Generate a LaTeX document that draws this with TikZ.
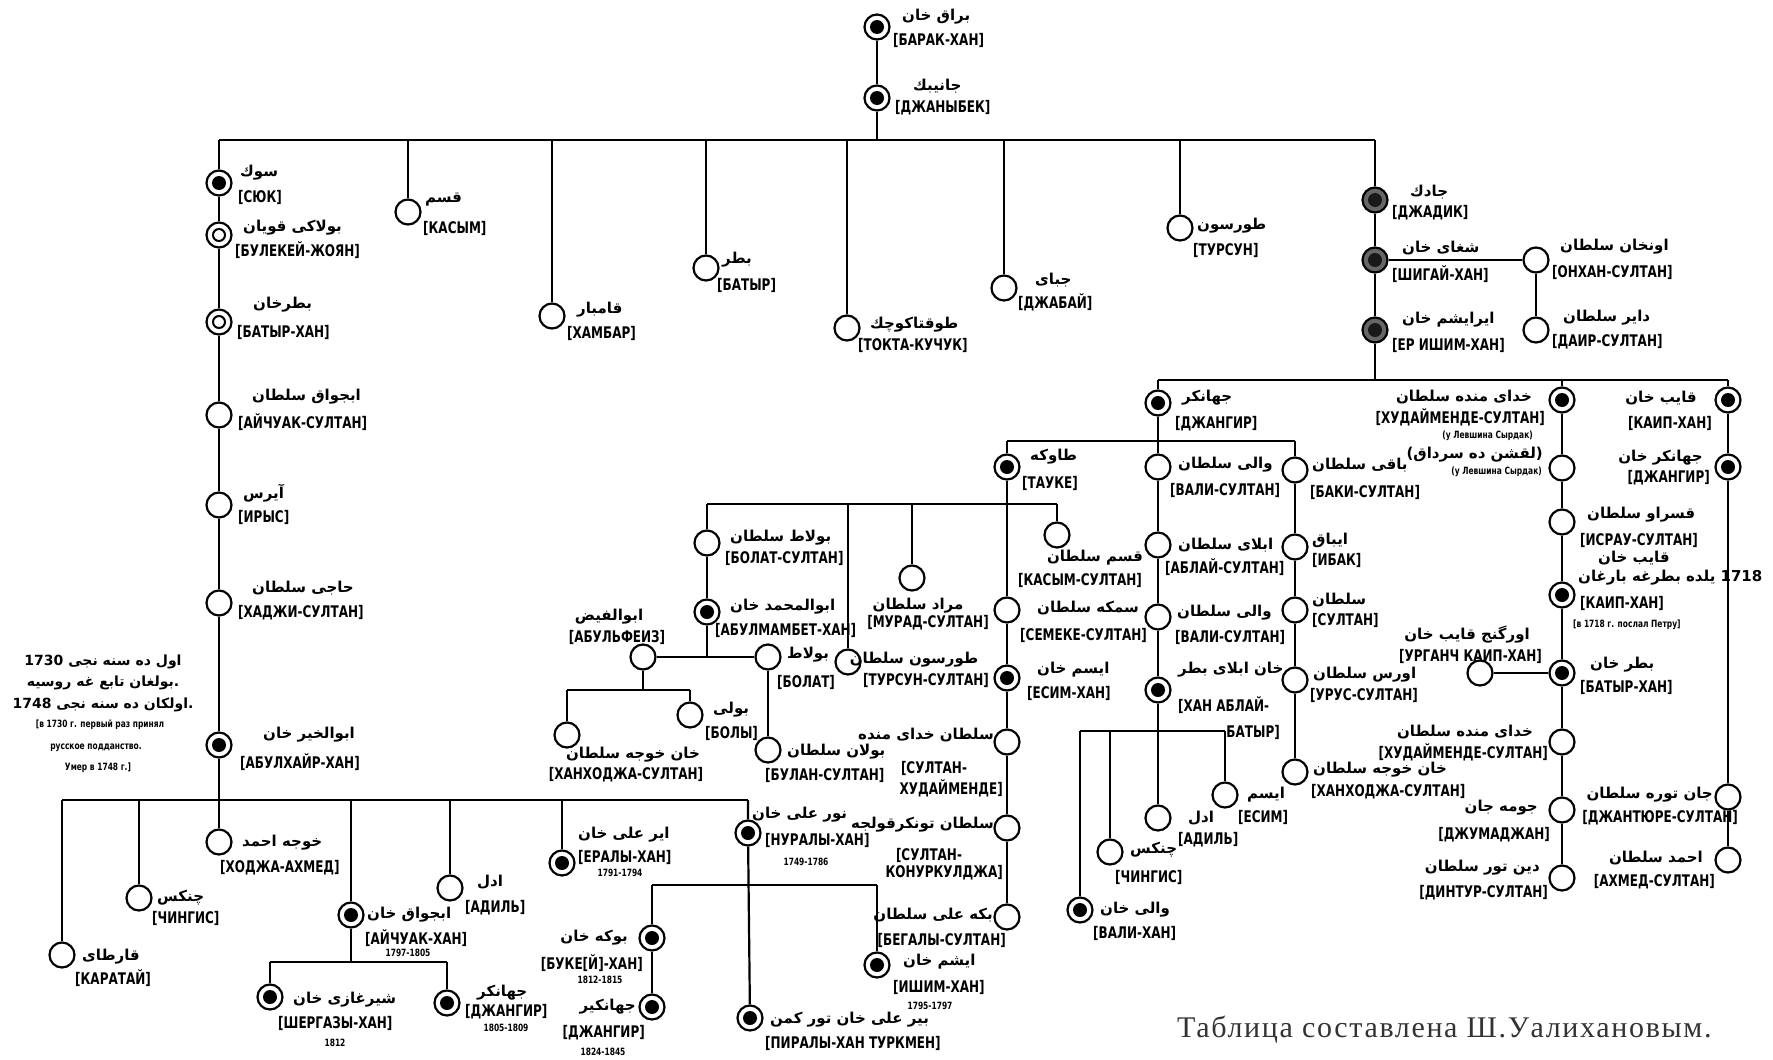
\documentclass[tikz,border=0pt]{standalone}
\usepackage{fontspec}
\TeXXeTstate=1
\setmainfont{Liberation Serif}
\newfontfamily\arabicfont[Script=Arabic]{DejaVu Sans}
\newfontfamily\cyrfont[FakeStretch=0.75]{DejaVu Sans}
\tikzset{
  conn/.style={line width=2.2pt, black},
  person/.style={circle, draw=black, line width=2.2pt, fill=white, minimum size=25pt, inner sep=0pt},
  plain/.style={person},
  khan/.style={person, path picture={\fill[black] (path picture bounding box.center) circle (7pt);}},
  khandark/.style={person, fill=black!60, path picture={\fill[black!90] (path picture bounding box.center) circle (7pt);}},
  ringed/.style={person, path picture={\draw[line width=2pt] (path picture bounding box.center) circle (6pt);}},
  ar/.style={inner sep=0pt, font=\arabicfont\bfseries\fontsize{15}{18}\selectfont},
  arn/.style={inner sep=0pt, font=\arabicfont\bfseries\fontsize{14}{17}\selectfont},
  cy/.style={inner sep=0pt, font=\cyrfont\bfseries\fontsize{16}{18}\selectfont},
  sm/.style={inner sep=0pt, font=\cyrfont\bfseries\fontsize{10}{12}\selectfont},
}
\newcommand\arlab[4]{\node[ar,anchor=#2] (#1) at (#3) {#4};}
\newcommand\cylab[4]{\node[cy,anchor=#2] (#1) at (#3) {#4};}
\newcommand\smlab[4]{\node[sm,anchor=#2] (#1) at (#3) {#4};}
\begin{document}
\begin{tikzpicture}[x=1pt,y=-1pt]
\useasboundingbox[fill=white] (0,0) rectangle (1773,1060);

% ---------- persons ----------
\node[khan] (barak) at (877,27) {};
\node[khan] (janybek) at (877,98) {};
\node[khan] (syuk) at (219,183) {};
\node[ringed] (bulekey) at (219,235) {};
\node[ringed] (batyrkhan) at (219,322) {};
\node[plain] (aychuaks) at (219,415) {};
\node[plain] (irys) at (219,505) {};
\node[plain] (khadzhi) at (219,603) {};
\node[khan] (abulkhair) at (219,745) {};
\node[plain] (kasym) at (408,212) {};
\node[plain] (khambar) at (552,316) {};
\node[plain] (batyr) at (706,268) {};
\node[plain] (tokta) at (847,328) {};
\node[plain] (dzhabay) at (1004,288) {};
\node[plain] (tursun) at (1180,228) {};
\node[khandark] (dzhadik) at (1375,200) {};
\node[khandark] (shigay) at (1375,260) {};
\node[khandark] (erishim) at (1375,330) {};
\node[plain] (onkhan) at (1536,260) {};
\node[plain] (dair) at (1536,330) {};

\node[khan] (dzhangir1) at (1158,403) {};
\node[khan] (khuday1) at (1562,400) {};
\node[plain] (levshina) at (1562,468) {};
\node[plain] (israu) at (1562,522) {};
\node[khan] (kaip1) at (1562,595) {};
\node[khan] (batyr2) at (1562,673) {};
\node[plain] (urganch) at (1480,673) {};
\node[plain] (khuday2) at (1562,742) {};
\node[plain] (dzhuma) at (1562,810) {};
\node[plain] (dintur) at (1562,878) {};
\node[khan] (kaip2) at (1728,400) {};
\node[khan] (dzhangir2) at (1728,467) {};
\node[plain] (dzhantyure) at (1728,797) {};
\node[plain] (akhmed) at (1728,860) {};

\node[khan] (tauke) at (1007,467) {};
\node[plain] (vali1) at (1158,467) {};
\node[plain] (baki) at (1295,470) {};
\node[plain] (ablays) at (1158,545) {};
\node[plain] (ibak) at (1295,547) {};
\node[plain] (vali2) at (1158,617) {};
\node[plain] (sultan) at (1295,610) {};
\node[khan] (ablaybatyr) at (1158,690) {};
\node[plain] (urus) at (1295,680) {};
\node[plain] (khankhodzha2) at (1295,772) {};
\node[khan] (valikhan) at (1080,910) {};
\node[plain] (chingis2) at (1110,852) {};
\node[plain] (adil2) at (1158,818) {};
\node[plain] (esim2) at (1225,795) {};

\node[plain] (kasyms) at (1057,535) {};
\node[plain] (semeke) at (1007,610) {};
\node[khan] (esimkhan) at (1007,678) {};
\node[plain] (skhuday) at (1007,742) {};
\node[plain] (skonur) at (1007,828) {};
\node[plain] (begaly) at (1007,917) {};
\node[plain] (murad) at (912,578) {};
\node[plain] (tursuns) at (848,662) {};
\node[plain] (bolats) at (707,543) {};
\node[khan] (abulmambet) at (707,612) {};
\node[plain] (abulfeiz) at (643,657) {};
\node[plain] (bolat) at (768,657) {};
\node[plain] (khankhodzha1) at (567,735) {};
\node[plain] (boly) at (690,715) {};
\node[plain] (bulan) at (768,750) {};

\node[plain] (khodzha) at (219,842) {};
\node[plain] (chingis1) at (139,898) {};
\node[plain] (karatay) at (62,955) {};
\node[khan] (aychuakkhan) at (351,915) {};
\node[plain] (adil1) at (450,888) {};
\node[khan] (eraly) at (562,863) {};
\node[khan] (nuraly) at (748,833) {};
\node[khan] (shergazy) at (270,997) {};
\node[khan] (dzhangir3) at (447,1003) {};
\node[khan] (bukey) at (652,938) {};
\node[khan] (dzhangir4) at (652,1007) {};
\node[khan] (piraly) at (750,1018) {};
\node[khan] (ishim) at (877,965) {};

% ---------- junctions ----------
\coordinate (rj) at (877,140);
\coordinate (r0) at (219,140); \coordinate (r1) at (408,140); \coordinate (r2) at (552,140);
\coordinate (r3) at (706,140); \coordinate (r4) at (847,140); \coordinate (r5) at (1004,140);
\coordinate (r6) at (1180,140); \coordinate (r7) at (1375,140);
\coordinate (q0) at (1158,380); \coordinate (q1) at (1375,380); \coordinate (q2) at (1562,380); \coordinate (q3) at (1728,380);
\coordinate (p0) at (1007,441); \coordinate (p2) at (1295,441);
\coordinate (s0) at (1080,731); \coordinate (s1) at (1110,731); \coordinate (s3) at (1225,731);
\coordinate (u0) at (707,504); \coordinate (u1) at (848,504); \coordinate (u2) at (912,504); \coordinate (u4) at (1057,504);
\coordinate (vj) at (707,657);
\coordinate (w0) at (567,690); \coordinate (w1) at (643,690); \coordinate (w2) at (690,690);
\coordinate (x0) at (62,800); \coordinate (x1) at (139,800); \coordinate (x3) at (351,800);
\coordinate (x4) at (450,800); \coordinate (x5) at (562,800); \coordinate (x6) at (748,800);
\coordinate (y0) at (270,962); \coordinate (y1) at (351,962); \coordinate (y2) at (447,962);
\coordinate (z0) at (652,885); \coordinate (z2) at (877,885);

% ---------- connectors ----------
\draw[conn] (barak) -- (janybek) -- (rj);
\draw[conn] (r0) -- (r7);
\draw[conn] (r0) -- (syuk) -- (bulekey) -- (batyrkhan) -- (aychuaks) -- (irys) -- (khadzhi) -- (abulkhair) -- (khodzha);
\draw[conn] (r1) -- (kasym);
\draw[conn] (r2) -- (khambar);
\draw[conn] (r3) -- (batyr);
\draw[conn] (r4) -- (tokta);
\draw[conn] (r5) -- (dzhabay);
\draw[conn] (r6) -- (tursun);
\draw[conn] (r7) -- (dzhadik) -- (shigay) -- (erishim) -- (q1);
\draw[conn] (shigay) -- (onkhan) -- (dair);
\draw[conn] (q0) -- (q3);
\draw[conn] (q0) -- (dzhangir1) -- (vali1) -- (ablays) -- (vali2) -- (ablaybatyr) -- (adil2);
\draw[conn] (p0) -- (p2);
\draw[conn] (p0) -- (tauke) -- (semeke) -- (esimkhan) -- (skhuday) -- (skonur) -- (begaly);
\draw[conn] (p2) -- (baki) -- (ibak) -- (sultan) -- (urus) -- (khankhodzha2);
\draw[conn] (q2) -- (khuday1) -- (levshina) -- (israu) -- (kaip1) -- (batyr2) -- (khuday2) -- (dzhuma) -- (dintur);
\draw[conn] (urganch) -- (batyr2);
\draw[conn] (q3) -- (kaip2) -- (dzhangir2) -- (dzhantyure) -- (akhmed);
\draw[conn] (s0) -- (s3);
\draw[conn] (s0) -- (valikhan);
\draw[conn] (s1) -- (chingis2);
\draw[conn] (s3) -- (esim2);
\draw[conn] (u0) -- (u4);
\draw[conn] (u0) -- (bolats) -- (abulmambet) -- (vj);
\draw[conn] (u1) -- (tursuns);
\draw[conn] (u2) -- (murad);
\draw[conn] (u4) -- (kasyms);
\draw[conn] (abulfeiz) -- (bolat);
\draw[conn] (abulfeiz) -- (w1);
\draw[conn] (w0) -- (w2);
\draw[conn] (w0) -- (khankhodzha1);
\draw[conn] (w2) -- (boly);
\draw[conn] (bolat) -- (bulan);
\draw[conn] (x0) -- (x6);
\draw[conn] (x0) -- (karatay);
\draw[conn] (x1) -- (chingis1);
\draw[conn] (x3) -- (aychuakkhan) -- (y1);
\draw[conn] (x4) -- (adil1);
\draw[conn] (x5) -- (eraly);
\draw[conn] (x6) -- (nuraly) -- (piraly);
\draw[conn] (y0) -- (y2);
\draw[conn] (y0) -- (shergazy);
\draw[conn] (y2) -- (dzhangir3);
\draw[conn] (z0) -- (z2);
\draw[conn] (z0) -- (bukey) -- (dzhangir4);
\draw[conn] (z2) -- (ishim);

% ---------- labels ----------
\arlab{barak-a}{west}{902,17}{\beginR براق خان\endR}
\cylab{barak-c}{west}{893,40}{[БАРАК-ХАН]}
\arlab{janybek-a}{west}{913,86}{\beginR جانيبك\endR}
\cylab{janybek-c}{west}{895,108}{[ДЖАНЫБЕК]}
\arlab{syuk-a}{west}{240,173}{\beginR سوك\endR}
\cylab{syuk-c}{west}{238,197}{[СЮК]}
\arlab{bulekey-a}{west}{243,228}{\beginR بولاكى قويان\endR}
\cylab{bulekey-c}{west}{235,250}{[БУЛЕКЕЙ-ЖОЯН]}
\arlab{batyrkhan-a}{west}{253,305}{\beginR بطرخان\endR}
\cylab{batyrkhan-c}{west}{237,332}{[БАТЫР-ХАН]}
\arlab{aychuaks-a}{west}{252,397}{\beginR ابجواق سلطان\endR}
\cylab{aychuaks-c}{west}{238,422}{[АЙЧУАК-СУЛТАН]}
\arlab{irys-a}{west}{243,493}{\beginR آيرس\endR}
\cylab{irys-c}{west}{238,517}{[ИРЫС]}
\arlab{khadzhi-a}{west}{252,588}{\beginR حاجى سلطان\endR}
\cylab{khadzhi-c}{west}{238,613}{[ХАДЖИ-СУЛТАН]}
\arlab{abulkhair-a}{west}{263,735}{\beginR ابوالخير خان\endR}
\cylab{abulkhair-c}{west}{240,762}{[АБУЛХАЙР-ХАН]}
\arlab{kasym-a}{west}{425,200}{\beginR قسم\endR}
\cylab{kasym-c}{west}{423,228}{[КАСЫМ]}
\arlab{khambar-a}{west}{577,310}{\beginR قامبار\endR}
\cylab{khambar-c}{west}{567,333}{[ХАМБАР]}
\arlab{batyr-a}{west}{722,260}{\beginR بطر\endR}
\cylab{batyr-c}{west}{717,285}{[БАТЫР]}
\arlab{tokta-a}{west}{870,325}{\beginR طوقتاكوچك\endR}
\cylab{tokta-c}{west}{858,345}{[ТОКТА-КУЧУК]}
\arlab{dzhabay-a}{west}{1035,280}{\beginR جباى\endR}
\cylab{dzhabay-c}{west}{1018,302}{[ДЖАБАЙ]}
\arlab{tursun-a}{west}{1197,226}{\beginR طورسون\endR}
\cylab{tursun-c}{west}{1193,250}{[ТУРСУН]}
\arlab{dzhadik-a}{west}{1410,192}{\beginR جادك\endR}
\cylab{dzhadik-c}{west}{1392,213}{[ДЖАДИК]}
\arlab{shigay-a}{west}{1402,248}{\beginR شغاى خان\endR}
\cylab{shigay-c}{west}{1392,274}{[ШИГАЙ-ХАН]}
\arlab{erishim-a}{west}{1402,320}{\beginR ايرايشم خان\endR}
\cylab{erishim-c}{west}{1392,345}{[ЕР ИШИМ-ХАН]}
\arlab{onkhan-a}{west}{1560,247}{\beginR اونخان سلطان\endR}
\cylab{onkhan-c}{west}{1552,272}{[ОНХАН-СУЛТАН]}
\arlab{dair-a}{west}{1563,318}{\beginR داير سلطان\endR}
\cylab{dair-c}{west}{1552,342}{[ДАИР-СУЛТАН]}

\arlab{dzhangir1-a}{west}{1182,398}{\beginR جهانكر\endR}
\cylab{dzhangir1-c}{west}{1175,424}{[ДЖАНГИР]}
\arlab{khuday1-a}{east}{1532,397}{\beginR خداى منده سلطان\endR}
\cylab{khuday1-c}{east}{1545,417}{[ХУДАЙМЕНДЕ-СУЛТАН]}
\smlab{levshina-s1}{east}{1533,436}{(у Левшина Сырдак)}
\arlab{levshina-a}{east}{1543,455}{\beginR (لقشن ده سرداق)\endR}
\smlab{levshina-s2}{east}{1542,472}{(у Левшина Сырдак)}
\arlab{israu-a}{west}{1587,515}{\beginR قسراو سلطان\endR}
\cylab{israu-c}{west}{1580,540}{[ИСРАУ-СУЛТАН]}
\arlab{kaip1-a}{west}{1598,558}{\beginR قايب خان\endR}
\arlab{kaip1-b}{west}{1578,578}{\beginR 1718 يلده بطرغه بارغان\endR}
\cylab{kaip1-c}{west}{1580,603}{[КАИП-ХАН]}
\smlab{kaip1-s}{west}{1573,625}{[в 1718 г. послал Петру]}
\arlab{batyr2-a}{west}{1590,665}{\beginR بطر خان\endR}
\cylab{batyr2-c}{west}{1580,687}{[БАТЫР-ХАН]}
\arlab{urganch-a}{east}{1530,635}{\beginR اورگنج قايب خان\endR}
\cylab{urganch-c}{east}{1542,656}{[УРГАНЧ КАИП-ХАН]}
\arlab{khuday2-a}{east}{1533,732}{\beginR خداى منده سلطان\endR}
\cylab{khuday2-c}{east}{1548,752}{[ХУДАЙМЕНДЕ-СУЛТАН]}
\arlab{dzhuma-a}{east}{1538,808}{\beginR جومه جان\endR}
\cylab{dzhuma-c}{east}{1550,835}{[ДЖУМАДЖАН]}
\arlab{dintur-a}{east}{1540,868}{\beginR دين تور سلطان\endR}
\cylab{dintur-c}{east}{1548,893}{[ДИНТУР-СУЛТАН]}
\arlab{kaip2-a}{east}{1697,398}{\beginR قايب خان\endR}
\cylab{kaip2-c}{east}{1712,423}{[КАИП-ХАН]}
\arlab{dzhangir2-a}{east}{1703,458}{\beginR جهانكر خان\endR}
\cylab{dzhangir2-c}{east}{1710,478}{[ДЖАНГИР]}
\arlab{dzhantyure-a}{east}{1713,795}{\beginR جان توره سلطان\endR}
\cylab{dzhantyure-c}{east}{1738,818}{[ДЖАНТЮРЕ-СУЛТАН]}
\arlab{akhmed-a}{east}{1703,858}{\beginR احمد سلطان\endR}
\cylab{akhmed-c}{east}{1715,882}{[АХМЕД-СУЛТАН]}

\arlab{tauke-a}{west}{1030,457}{\beginR طاوكه\endR}
\cylab{tauke-c}{west}{1022,483}{[ТАУКЕ]}
\arlab{vali1-a}{west}{1178,465}{\beginR والى سلطان\endR}
\cylab{vali1-c}{west}{1170,490}{[ВАЛИ-СУЛТАН]}
\arlab{baki-a}{west}{1312,465}{\beginR باقى سلطان\endR}
\cylab{baki-c}{west}{1310,492}{[БАКИ-СУЛТАН]}
\arlab{ablays-a}{west}{1178,545}{\beginR ابلاى سلطان\endR}
\cylab{ablays-c}{west}{1165,567}{[АБЛАЙ-СУЛТАН]}
\arlab{ibak-a}{west}{1312,540}{\beginR ايباق\endR}
\cylab{ibak-c}{west}{1312,560}{[ИБАК]}
\arlab{vali2-a}{west}{1177,613}{\beginR والى سلطان\endR}
\cylab{vali2-c}{west}{1175,637}{[ВАЛИ-СУЛТАН]}
\arlab{sultan-a}{west}{1312,600}{\beginR سلطان\endR}
\cylab{sultan-c}{west}{1312,620}{[СУЛТАН]}
\arlab{ablaybatyr-a}{west}{1178,670}{\beginR خان ابلاى بطر\endR}
\cylab{ablaybatyr-c}{west}{1178,705}{[ХАН АБЛАЙ-}
\cylab{ablaybatyr-d}{east}{1280,732}{БАТЫР]}
\arlab{urus-a}{west}{1313,675}{\beginR اورس سلطان\endR}
\cylab{urus-c}{west}{1310,695}{[УРУС-СУЛТАН]}
\arlab{khankhodzha2-a}{west}{1313,770}{\beginR خان خوجه سلطان\endR}
\cylab{khankhodzha2-c}{west}{1311,792}{[ХАНХОДЖА-СУЛТАН]}
\arlab{valikhan-a}{west}{1100,910}{\beginR والى خان\endR}
\cylab{valikhan-c}{west}{1093,933}{[ВАЛИ-ХАН]}
\arlab{chingis2-a}{west}{1130,850}{\beginR چنكس\endR}
\cylab{chingis2-c}{west}{1115,877}{[ЧИНГИС]}
\arlab{adil2-a}{west}{1188,818}{\beginR ادل\endR}
\cylab{adil2-c}{west}{1178,840}{[АДИЛЬ]}
\arlab{esim2-a}{west}{1247,795}{\beginR ايسم\endR}
\cylab{esim2-c}{west}{1238,817}{[ЕСИМ]}

\arlab{kasyms-a}{center}{1095,558}{\beginR قسم سلطان\endR}
\cylab{kasyms-c}{center}{1080,580}{[КАСЫМ-СУЛТАН]}
\arlab{semeke-a}{west}{1037,608}{\beginR سمكه سلطان\endR}
\cylab{semeke-c}{west}{1020,635}{[СЕМЕКЕ-СУЛТАН]}
\arlab{esimkhan-a}{west}{1037,670}{\beginR ايسم خان\endR}
\cylab{esimkhan-c}{west}{1027,693}{[ЕСИМ-ХАН]}
\arlab{skhuday-a}{east}{994,735}{\beginR سلطان خداى منده\endR}
\cylab{skhuday-c}{center}{934,768}{[СУЛТАН-}
\cylab{skhuday-d}{east}{1003,788}{ХУДАЙМЕНДЕ]}
\arlab{skonur-a}{east}{994,825}{\beginR سلطان تونكرقولجه\endR}
\cylab{skonur-c}{center}{929,855}{[СУЛТАН-}
\cylab{skonur-d}{east}{1003,873}{КОНУРКУЛДЖА]}
\arlab{begaly-a}{east}{993,915}{\beginR بكه على سلطان\endR}
\cylab{begaly-c}{east}{1006,940}{[БЕГАЛЫ-СУЛТАН]}
\arlab{murad-a}{center}{918,606}{\beginR مراد سلطان\endR}
\cylab{murad-c}{center}{928,623}{[МУРАД-СУЛТАН]}
\arlab{tursuns-a}{center}{914,660}{\beginR طورسون سلطان\endR}
\cylab{tursuns-c}{center}{926,680}{[ТУРСУН-СУЛТАН]}
\arlab{bolats-a}{west}{730,538}{\beginR بولاط سلطان\endR}
\cylab{bolats-c}{west}{725,558}{[БОЛАТ-СУЛТАН]}
\arlab{abulmambet-a}{west}{730,607}{\beginR ابوالمحمد خان\endR}
\cylab{abulmambet-c}{west}{715,630}{[АБУЛМАМБЕТ-ХАН]}
\arlab{abulfeiz-a}{center}{609,617}{\beginR ابوالفيض\endR}
\cylab{abulfeiz-c}{center}{617,637}{[АБУЛЬФЕИЗ]}
\arlab{bolat-a}{west}{787,655}{\beginR بولاط\endR}
\cylab{bolat-c}{west}{777,682}{[БОЛАТ]}
\arlab{khankhodzha1-a}{center}{633,755}{\beginR خان خوجه سلطان\endR}
\cylab{khankhodzha1-c}{center}{626,775}{[ХАНХОДЖА-СУЛТАН]}
\arlab{boly-a}{west}{713,710}{\beginR بولى\endR}
\cylab{boly-c}{west}{705,733}{[БОЛЫ]}
\arlab{bulan-a}{west}{787,752}{\beginR بولان سلطان\endR}
\cylab{bulan-c}{west}{765,775}{[БУЛАН-СУЛТАН]}

\arlab{khodzha-a}{west}{242,843}{\beginR خوجه احمد\endR}
\cylab{khodzha-c}{west}{220,868}{[ХОДЖА-АХМЕД]}
\arlab{chingis1-a}{west}{157,898}{\beginR چنكس\endR}
\cylab{chingis1-c}{west}{152,918}{[ЧИНГИС]}
\arlab{karatay-a}{west}{82,957}{\beginR قارطاى\endR}
\cylab{karatay-c}{west}{75,978}{[КАРАТАЙ]}
\arlab{aychuakkhan-a}{west}{367,915}{\beginR ابجواق خان\endR}
\cylab{aychuakkhan-c}{west}{365,938}{[АЙЧУАК-ХАН]}
\smlab{aychuakkhan-y}{center}{408,953}{1797-1805}
\arlab{adil1-a}{west}{477,882}{\beginR ادل\endR}
\cylab{adil1-c}{west}{465,908}{[АДИЛЬ]}
\arlab{eraly-a}{west}{578,835}{\beginR اير على خان\endR}
\cylab{eraly-c}{west}{578,857}{[ЕРАЛЫ-ХАН]}
\smlab{eraly-y}{center}{620,873}{1791-1794}
\arlab{nuraly-a}{west}{752,815}{\beginR نور على خان\endR}
\cylab{nuraly-c}{west}{765,840}{[НУРАЛЫ-ХАН]}
\smlab{nuraly-y}{center}{806,862}{1749-1786}
\arlab{shergazy-a}{west}{293,1000}{\beginR شيرغازى خان\endR}
\cylab{shergazy-c}{west}{278,1023}{[ШЕРГАЗЫ-ХАН]}
\smlab{shergazy-y}{center}{335,1043}{1812}
\arlab{dzhangir3-a}{west}{477,993}{\beginR جهانكر\endR}
\cylab{dzhangir3-c}{west}{465,1012}{[ДЖАНГИР]}
\smlab{dzhangir3-y}{center}{506,1028}{1805-1809}
\arlab{bukey-a}{east}{628,938}{\beginR بوكه خان\endR}
\cylab{bukey-c}{east}{643,963}{[БУКЕ[Й]-ХАН]}
\smlab{bukey-y}{center}{600,980}{1812-1815}
\arlab{dzhangir4-a}{east}{636,1007}{\beginR جهانكير\endR}
\cylab{dzhangir4-c}{east}{645,1033}{[ДЖАНГИР]}
\smlab{dzhangir4-y}{center}{603,1052}{1824-1845}
\arlab{piraly-a}{west}{770,1020}{\beginR بير على خان تور كمن\endR}
\cylab{piraly-c}{west}{765,1043}{[ПИРАЛЫ-ХАН ТУРКМЕН]}
\arlab{ishim-a}{west}{903,962}{\beginR ايشم خان\endR}
\cylab{ishim-c}{west}{893,987}{[ИШИМ-ХАН]}
\smlab{ishim-y}{center}{930,1006}{1795-1797}

% ---------- note ----------
\node[arn] (note-a1) at (103,662) {\beginR اول ده سنه نجى 1730\endR};
\node[arn] (note-a2) at (103,683) {\beginR .بولغان تابع غه روسيه\endR};
\node[arn] (note-a3) at (103,705) {\beginR .اولكان ده سنه نجى 1748\endR};
\smlab{note-s1}{center}{100,725}{[в 1730 г. первый раз принял}
\smlab{note-s2}{center}{96,748}{русское подданство.}
\smlab{note-s3}{center}{98,768}{Умер в 1748 г.]}

% ---------- footer ----------
\node[anchor=west, inner sep=0pt, text=black!80, font=\fontsize{30}{34}\selectfont\addfontfeatures{LetterSpace=5.5}] (footer) at (1177,1030) {Таблица составлена Ш.Уалихановым.};
\end{tikzpicture}
\end{document}
